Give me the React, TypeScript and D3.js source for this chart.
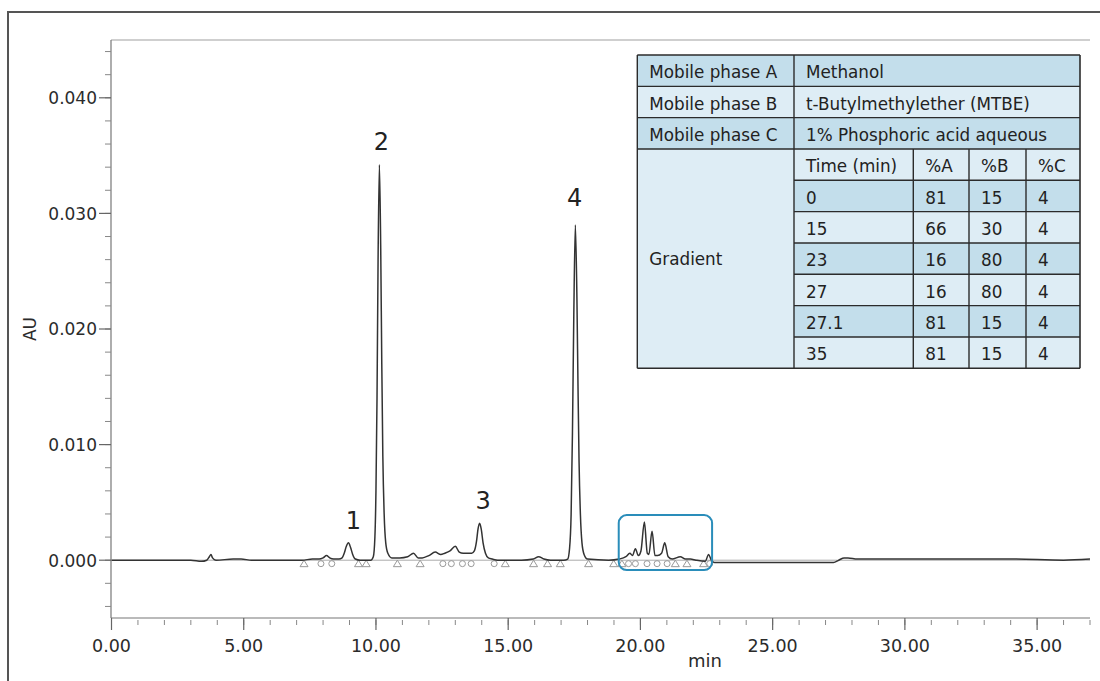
import React from "react";
import * as d3 from "d3";

// ---- Chromatogram trace (time in min, absorbance in AU) ----
const traceTime = [
  0.0, 3.0, 3.4, 3.6, 3.7, 3.76, 3.82, 3.95, 4.6, 4.9, 5.3, 7.2, 7.6, 7.85, 8.0, 8.13, 8.25, 8.4,
  8.6, 8.72, 8.8, 8.88, 8.96, 9.04, 9.12, 9.22, 9.4, 9.8, 9.9, 9.96, 10.0, 10.04, 10.08, 10.13,
  10.18, 10.22, 10.26, 10.31, 10.37, 10.45, 10.6, 10.9, 11.2, 11.42, 11.6, 11.75, 12.0, 12.24,
  12.45, 12.6, 12.8, 13.0, 13.15, 13.3, 13.5, 13.62, 13.72, 13.8, 13.86, 13.92, 13.98, 14.05,
  14.14, 14.25, 14.4, 14.6, 15.5, 15.95, 16.15, 16.35, 16.6, 17.1, 17.25, 17.32, 17.38, 17.43,
  17.48, 17.54, 17.6, 17.64, 17.68, 17.73, 17.79, 17.87, 18.0, 18.8, 19.2, 19.45, 19.6, 19.7,
  19.81, 19.92, 20.02, 20.15, 20.26, 20.32, 20.44, 20.55, 20.65, 20.8, 20.92, 21.05, 21.2, 21.51,
  21.7, 21.89, 22.1, 22.45, 22.58, 22.68, 22.8, 24.0, 27.3, 27.5, 27.7, 27.85, 28.2, 34.0, 36.0, 37.0,
];
const traceAU = [
  0.0, 0.0, -0.0001, 0.0, 0.0003, 0.0005, 0.0002, 0.0, 0.0001, 0.0001, 0.0, 0.0, 0.0001, 0.0001,
  0.0002, 0.0004, 0.0002, 0.0001, 0.0001, 0.0002, 0.0006, 0.0012, 0.0015, 0.0011, 0.0005, 0.0001,
  0.0, 0.0, 0.0003, 0.002, 0.006, 0.014, 0.026, 0.0342, 0.027, 0.017, 0.009, 0.004, 0.0015, 0.0006,
  0.0002, 0.0002, 0.0003, 0.0006, 0.0002, 0.0002, 0.0004, 0.0007, 0.0005, 0.0006, 0.0008, 0.0012,
  0.0007, 0.0006, 0.0006, 0.0006, 0.0008, 0.0016, 0.0027, 0.0032, 0.0027, 0.0015, 0.0006, 0.0002,
  0.0001, 0.0, 0.0, 0.0001, 0.0003, 0.0001, 0.0, 0.0, 0.0001, 0.001, 0.004, 0.011, 0.021, 0.029,
  0.0225, 0.015, 0.0085, 0.004, 0.0015, 0.0005, 0.0001, 0.0, 0.0001, 0.0003, 0.0006, 0.0004, 0.001,
  0.0004, 0.0008, 0.0033, 0.0006, 0.0005, 0.0025, 0.0004, 0.0004, 0.0006, 0.0015, 0.0003, 0.0001,
  0.0003, 0.0001, 0.0001, 0.0, -0.0001, 0.0005, 0.0, -0.0002, -0.0002, -0.0002, 0.0, 0.0002, 0.0002,
  0.0001, 0.0001, 0.0, 0.0001,
];

// integration markers (min)
const triangleTimes = [7.28, 9.34, 9.63, 10.81, 11.67, 14.89, 15.96, 16.49, 16.97, 18.04, 18.99, 19.3, 21.32, 21.76, 22.39];
const circleTimes = [7.92, 8.33, 12.53, 12.85, 13.27, 13.6, 14.47, 19.55, 19.81, 20.25, 20.63, 21.01, 22.62];

// peak labels
const peakLabels = ["1", "2", "3", "4"];
const peakLabelTime = [9.15, 10.21, 14.05, 17.51];
const peakLabelAU = [0.0027, 0.0355, 0.0044, 0.0306];

// highlighted region
const boxTime = [19.18, 22.71];
const boxAU = [-0.00085, 0.0039];

// axes
const xDomain = [0, 37];
const yDomain = [-0.005, 0.045];
const xMajorTicks = [0, 5, 10, 15, 20, 25, 30, 35];
const yMajorTicks = [0, 0.01, 0.02, 0.03, 0.04];

// table
const phaseLabels = ["Mobile phase A", "Mobile phase B", "Mobile phase C"];
const phaseValues = ["Methanol", "t-Butylmethylether (MTBE)", "1% Phosphoric acid aqueous"];
const gradientHeader = ["Time (min)", "%A", "%B", "%C"];
const gradTime = ["0", "15", "23", "27", "27.1", "35"];
const gradA = ["81", "66", "16", "16", "81", "81"];
const gradB = ["15", "30", "80", "80", "15", "15"];
const gradC = ["4", "4", "4", "4", "4", "4"];

const FONT = "DejaVu Sans, Verdana, sans-serif";
const DARK = "#c3deeb";
const LIGHT = "#deedf5";

export default function App() {
  const x = d3.scaleLinear().domain(xDomain).range([111.5, 1090]);
  const y = d3.scaleLinear().domain(yDomain).range([618, 40]);
  const pts: [number, number][] = traceTime.map((t, i) => [t, traceAU[i]]);
  const line = d3
    .line<[number, number]>()
    .x((d) => x(d[0]))
    .y((d) => y(d[1]))
    .curve(d3.curveMonotoneX);

  const xMinor = d3.range(0, 38, 1);
  const yMinor = d3.range(-0.004, 0.0441, 0.002);
  const fy = d3.format(".3f");
  const fx = d3.format(".2f");
  const markerAU = -0.0003;

  // table layout
  const colX = [637.3, 794, 913.3, 969, 1026, 1080];
  const top = 55;
  const rh = 31.33;
  const rowY = (i: number) => top + i * rh;
  const pad = 12;
  const tfs = 16.8;
  const base = 7.6;

  const cells: React.ReactNode[] = [];
  phaseLabels.forEach((lab, i) => {
    const fill = i % 2 === 0 ? DARK : LIGHT;
    cells.push(
      <rect key={"pr" + i} x={colX[0]} y={rowY(i)} width={colX[5] - colX[0]} height={rh} fill={fill} />
    );
  });
  cells.push(
    <rect key="gcell" x={colX[0]} y={rowY(3)} width={colX[1] - colX[0]} height={rh * 7} fill={LIGHT} />
  );
  cells.push(
    <rect key="ghead" x={colX[1]} y={rowY(3)} width={colX[5] - colX[1]} height={rh} fill={LIGHT} />
  );
  gradTime.forEach((_, i) => {
    const fill = i % 2 === 0 ? DARK : LIGHT;
    cells.push(
      <rect key={"gr" + i} x={colX[1]} y={rowY(4 + i)} width={colX[5] - colX[1]} height={rh} fill={fill} />
    );
  });

  const texts: React.ReactNode[] = [];
  phaseLabels.forEach((lab, i) => {
    texts.push(
      <text key={"pl" + i} x={colX[0] + pad} y={rowY(i) + rh / 2 + base}>{lab}</text>
    );
    texts.push(
      <text key={"pv" + i} x={colX[1] + pad} y={rowY(i) + rh / 2 + base}>{phaseValues[i]}</text>
    );
  });
  texts.push(
    <text key="grad" x={colX[0] + pad} y={rowY(3) + (rh * 7) / 2 + 6.5}>Gradient</text>
  );
  gradientHeader.forEach((h, j) => {
    texts.push(
      <text key={"gh" + j} x={colX[1 + j] + pad} y={rowY(3) + rh / 2 + base}>{h}</text>
    );
  });
  gradTime.forEach((t, i) => {
    const vals = [t, gradA[i], gradB[i], gradC[i]];
    vals.forEach((v, j) => {
      texts.push(
        <text key={"g" + i + "_" + j} x={colX[1 + j] + pad} y={rowY(4 + i) + rh / 2 + base}>{v}</text>
      );
    });
  });

  const lines: React.ReactNode[] = [];
  const bc = "#2b2b2b";
  for (let i = 0; i <= 10; i++) {
    const x0 = i >= 4 && i <= 9 ? colX[1] : colX[0];
    lines.push(<line key={"h" + i} x1={x0} x2={colX[5]} y1={rowY(i)} y2={rowY(i)} stroke={bc} strokeWidth={1.4} />);
  }
  lines.push(<line key="v0" x1={colX[0]} x2={colX[0]} y1={rowY(0)} y2={rowY(10)} stroke={bc} strokeWidth={1.4} />);
  lines.push(<line key="v1" x1={colX[1]} x2={colX[1]} y1={rowY(0)} y2={rowY(10)} stroke={bc} strokeWidth={1.4} />);
  [2, 3, 4].forEach((c) =>
    lines.push(<line key={"v" + c} x1={colX[c]} x2={colX[c]} y1={rowY(3)} y2={rowY(10)} stroke={bc} strokeWidth={1.4} />)
  );
  lines.push(<line key="v5" x1={colX[5]} x2={colX[5]} y1={rowY(0)} y2={rowY(10)} stroke={bc} strokeWidth={1.6} />);

  const y0 = y(markerAU);

  return (
    <svg
      width={1100}
      height={681}
      style={{ position: "absolute", left: 0, top: 0, background: "#fff" }}
      fontFamily={FONT}
    >
      <rect x={0} y={0} width={1100} height={681} fill="#fff" />
      <path d="M8,690 V12 H1110" fill="none" stroke="#555" strokeWidth={2} />

      <line x1={111} x2={1090} y1={40} y2={40} stroke="#a0a0a0" strokeWidth={1.2} />
      <line x1={111} x2={111} y1={40} y2={618} stroke="#777" strokeWidth={1.2} />
      <line x1={111} x2={1090} y1={618} y2={618} stroke="#777" strokeWidth={1.2} />

      {yMinor.map((v, i) => (
        <line key={"ym" + i} x1={105} x2={111} y1={y(v)} y2={y(v)} stroke="#888" strokeWidth={1} />
      ))}
      {yMajorTicks.map((v) => (
        <g key={"yM" + v}>
          <line x1={99} x2={111} y1={y(v)} y2={y(v)} stroke="#666" strokeWidth={1.2} />
          <text x={97} y={y(v) + 6.3} textAnchor="end" fontSize={17} fill="#2b2b2b">
            {fy(v)}
          </text>
        </g>
      ))}
      {xMinor.map((v) => (
        <line key={"xm" + v} x1={x(v)} x2={x(v)} y1={620} y2={625} stroke="#888" strokeWidth={1} />
      ))}
      {xMajorTicks.map((v) => (
        <g key={"xM" + v}>
          <line x1={x(v)} x2={x(v)} y1={618} y2={630} stroke="#666" strokeWidth={1.2} />
          <text x={x(v)} y={652} textAnchor="middle" fontSize={17.5} fill="#2b2b2b">
            {fx(v)}
          </text>
        </g>
      ))}
      <text x={705} y={667} textAnchor="middle" fontSize={18} fill="#2b2b2b">min</text>
      <text transform="translate(36,329) rotate(-90)" textAnchor="middle" fontSize={17} fill="#2b2b2b">AU</text>

      <line x1={x(0)} x2={x(37)} y1={y(0)} y2={y(0)} stroke="#aaa" strokeWidth={1} />

      {triangleTimes.map((t, i) => (
        <path
          key={"tr" + i}
          d={`M${x(t) - 4},${y0 + 3} L${x(t) + 4},${y0 + 3} L${x(t)},${y0 - 3.5} Z`}
          fill="none"
          stroke="#9a9a9a"
          strokeWidth={1}
        />
      ))}
      {circleTimes.map((t, i) => (
        <circle key={"ci" + i} cx={x(t)} cy={y0} r={3} fill="none" stroke="#9a9a9a" strokeWidth={1} />
      ))}

      <path d={line(pts) || ""} fill="none" stroke="#333" strokeWidth={1.5} strokeLinejoin="round" />

      <rect
        x={x(boxTime[0])}
        y={y(boxAU[1])}
        width={x(boxTime[1]) - x(boxTime[0])}
        height={y(boxAU[0]) - y(boxAU[1])}
        rx={8}
        ry={8}
        fill="none"
        stroke="#2a8dba"
        strokeWidth={2}
      />

      {peakLabels.map((l, i) => (
        <text key={"pk" + i} x={x(peakLabelTime[i])} y={y(peakLabelAU[i])} textAnchor="middle" fontSize={24} fill="#222">
          {l}
        </text>
      ))}

      <g>
        {cells}
        <g fontSize={tfs} fill="#222">{texts}</g>
        {lines}
      </g>
    </svg>
  );
}
